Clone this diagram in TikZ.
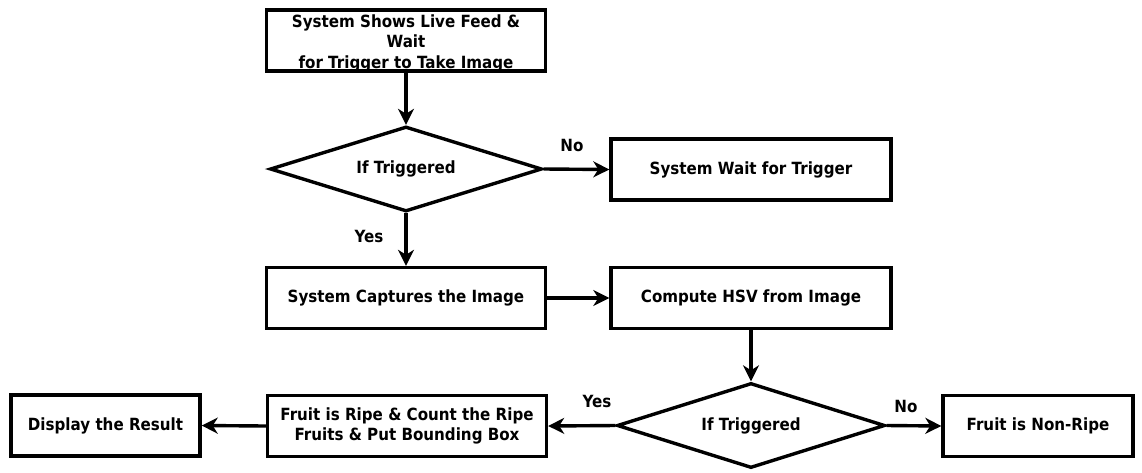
\documentclass[tikz,border=0pt]{standalone}
\usepackage{fontspec}
\setmainfont{DejaVu Sans}[FakeStretch=0.9]
\usetikzlibrary{shapes.geometric,arrows.meta}
\begin{document}
\begin{tikzpicture}[x=1pt,y=-1pt,
  txt/.style={font=\bfseries\fontsize{16.8}{20.5}\selectfont},
  box/.style={txt, draw=black, line width=3.4pt, fill=white, minimum width=279pt, minimum height=61pt, inner sep=0pt, align=center},
  dec/.style={txt, draw=black, shape=diamond, line width=3.4pt, aspect=3.2, inner sep=0pt, minimum width=270pt, minimum height=85pt},
  conn/.style={line width=3.4pt, -{Stealth[length=16pt,width=16pt,inset=5pt]}},
  lbl/.style={txt, inner sep=0pt}]
\useasboundingbox[fill=white] (0,0) rectangle (1142,472);
\node[box] (b1) at (406,40.5) {};
\node[txt, align=center, inner sep=0pt] (b1t) at (406,43) {System Shows Live Feed \&\\Wait\\for Trigger to Take Image};
\node[dec, minimum width=272pt] (d1) at (406,169) {If Triggered};
\node[box, minimum width=280pt] (b2) at (751,169.5) {System Wait for Trigger};
\node[box] (b3) at (406,298) {System Captures the Image};
\node[box, minimum width=280pt] (b4) at (751,298) {Compute HSV from Image};
\node[dec, minimum width=268pt] (d2) at (751,425.5) {If Triggered};
\node[box] (b5) at (407,426) {Fruit is Ripe \& Count the Ripe\\Fruits \& Put Bounding Box};
\node[box, minimum width=189pt] (b6) at (105.5,425.5) {Display the Result};
\node[box, minimum width=190pt] (b7) at (1038,426) {Fruit is Non-Ripe};
\draw[conn] (b1.south) -- (d1.north);
\draw[conn] (d1.east) -- (b2.west);
\draw[conn] (d1.south) -- (b3.north);
\draw[conn] (b3.east) -- (b4.west);
\draw[conn] (b4.south) -- (d2.north);
\draw[conn] (d2.west) -- (b5.east);
\draw[conn] (b5.west) -- (b6.east);
\draw[conn] (d2.east) -- (b7.west);
\node[lbl] (l1) at (572,145) {No};
\node[lbl] (l2) at (369,236) {Yes};
\node[lbl] (l3) at (597,401) {Yes};
\node[lbl] (l4) at (906,406) {No};
\end{tikzpicture}
\end{document}
